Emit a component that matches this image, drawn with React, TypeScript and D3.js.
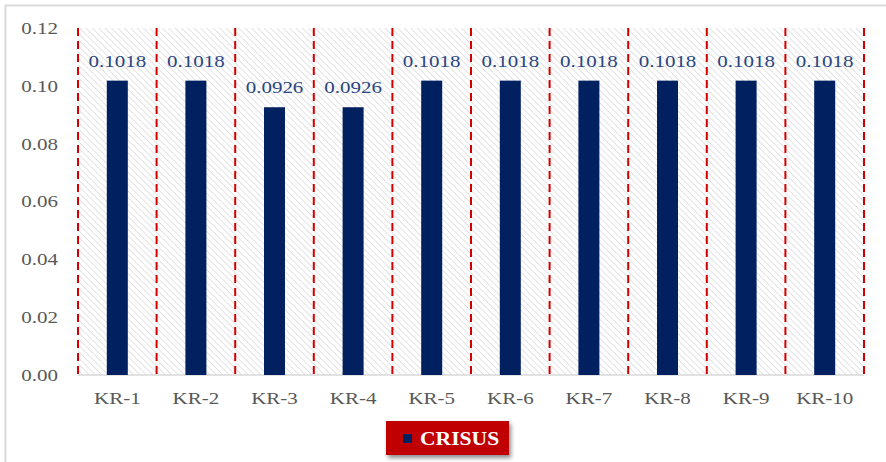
import React from "react";
import * as d3 from "d3";

const categories = ["KR-1", "KR-2", "KR-3", "KR-4", "KR-5", "KR-6", "KR-7", "KR-8", "KR-9", "KR-10"];
const values = [0.1018, 0.1018, 0.0926, 0.0926, 0.1018, 0.1018, 0.1018, 0.1018, 0.1018, 0.1018];
const yTicks = [0, 0.02, 0.04, 0.06, 0.08, 0.1, 0.12];
const seriesName = "CRISUS";

const serif = "'Liberation Serif', 'Times New Roman', serif";
const SX = 1.2;

function T(props: { x: number; y: number; anchor: string; size: number; fill: string; bold?: boolean; children: React.ReactNode }) {
  return (
    <g transform={`translate(${props.x},${props.y}) scale(${SX},1)`}>
      <text x={0} y={0} textAnchor={props.anchor as any} dominantBaseline="central" fontFamily={serif}
        fontSize={props.size} fontWeight={props.bold ? "bold" : "normal"} fill={props.fill}>
        {props.children}
      </text>
    </g>
  );
}

export default function App() {
  const W = 886, H = 462;
  const left = 78, right = 864, top = 28, bottom = 375;
  const x = d3.scaleBand<string>().domain(categories).range([left, right]).paddingInner(0).paddingOuter(0);
  const y = d3.scaleLinear().domain([0, 0.12]).range([bottom, top]);
  const barW = 21;
  const boundaries = categories.map((c) => x(c)!).concat([right]);

  return (
    <svg width={W} height={H} style={{ position: "absolute", left: 0, top: 0 }}>
      <defs>
        <pattern id="hatch" patternUnits="userSpaceOnUse" width="4.5" height="4.5" patternTransform="rotate(-45)">
          <rect width="4.5" height="4.5" fill="#ffffff" />
          <line x1="0" y1="0" x2="0" y2="4.5" stroke="#d8d8d8" strokeWidth="1.4" />
        </pattern>
        <filter id="shadow" x="-20%" y="-30%" width="140%" height="170%">
          <feDropShadow dx="2" dy="3" stdDeviation="2" floodColor="#000" floodOpacity="0.45" />
        </filter>
      </defs>
      <rect x={0} y={0} width={W} height={H} fill="#ffffff" />
      <rect x={5.5} y={5.5} width={W + 20} height={H + 20} fill="none" stroke="#d9d9d9" strokeWidth={2} />
      <rect x={left} y={top} width={right - left} height={bottom - top} fill="url(#hatch)" />
      <line x1={left} x2={right} y1={bottom} y2={bottom} stroke="#d9d9d9" strokeWidth={1.5} />
      {boundaries.map((bx, i) => (
        <line key={"d" + i} x1={bx} x2={bx} y1={top} y2={bottom} stroke="#d40000" strokeWidth={2} strokeDasharray="8,5" />
      ))}
      {yTicks.map((t) => (
        <T key={"y" + t} x={58} y={y(t)} anchor="end" size={17.5} fill="#595959">
          {t.toFixed(2)}
        </T>
      ))}
      {categories.map((c, i) => {
        const cx = x(c)! + x.bandwidth() / 2;
        return (
          <g key={c}>
            <rect x={cx - barW / 2} y={y(values[i])} width={barW} height={bottom - y(values[i])} fill="#002060" />
            <T x={cx} y={y(values[i]) - 20} anchor="middle" size={17.5} fill="#2a4680">
              {values[i].toFixed(4)}
            </T>
            <T x={cx} y={398} anchor="middle" size={17.5} fill="#595959">
              {c}
            </T>
          </g>
        );
      })}
      <g>
        <rect x={386} y={421} width={123} height={34} fill="#c00000" filter="url(#shadow)" />
        <rect x={403} y={434} width={9} height={9} fill="#002060" />
        <T x={420} y={439} anchor="start" size={18} bold fill="#ffffff">
          {seriesName}
        </T>
      </g>
    </svg>
  );
}
